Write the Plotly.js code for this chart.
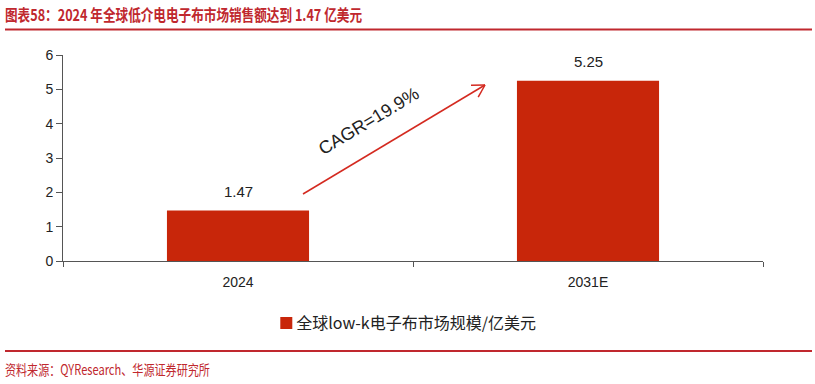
<!DOCTYPE html>
<html>
<head>
<meta charset="utf-8">
<script src="https://cdn.plot.ly/plotly-3.0.1.min.js"></script>
<style>html,body{margin:0;padding:0;background:#fff;}#chart{width:815px;height:384px;}</style>
</head>
<body>
<div id="chart"></div>
<script>
const categories = ['2024', '2031E'];
const marketSize = [1.47, 5.25];
const valueLabels = ['1.47', '5.25'];
const seriesName = '全球low-k电子布市场规模/亿美元';
const cagrText = 'CAGR=19.9%';
const titleText = '图表58：2024 年全球低介电电子布市场销售额达到 1.47 亿美元';
const sourceText = '资料来源：QYResearch、华源证券研究所';

const W = 815, H = 384;
const M = {l: 63, r: 52, t: 55, b: 123};
const PW = W - M.l - M.r, PH = H - M.t - M.b;
const yMax = 6;
const red = '#c0282e';
const barColor = '#c8260a';

const px2x = p => (p - M.l) / PW * categories.length - 0.5;
const py2y = p => (M.t + PH - p) / PH * yMax;
const pxPaper = p => (p - M.l) / PW;
const pyPaper = p => (M.t + PH - p) / PH;

const a0 = [303, 194], a1 = [485, 85];
const ang = Math.atan2(a1[1] - a0[1], a1[0] - a0[0]);
const hl = 14, spread = Math.PI / 6;
const h1 = [a1[0] - hl * Math.cos(ang - spread), a1[1] - hl * Math.sin(ang - spread)];
const h2 = [a1[0] - hl * Math.cos(ang + spread), a1[1] - hl * Math.sin(ang + spread)];

const trace = {
  type: 'bar',
  x: categories,
  y: marketSize,
  name: seriesName,
  marker: {color: barColor},
  width: 0.406,
  hoverinfo: 'skip'
};

const arrowColor = '#d42a20';
const shapes = [
  {type: 'line', xref: 'x', yref: 'y', x0: px2x(a0[0]), y0: py2y(a0[1]), x1: px2x(a1[0]), y1: py2y(a1[1]), line: {color: arrowColor, width: 1.5}},
  {type: 'line', xref: 'x', yref: 'y', x0: px2x(a1[0]), y0: py2y(a1[1]), x1: px2x(h1[0]), y1: py2y(h1[1]), line: {color: arrowColor, width: 1.5}},
  {type: 'line', xref: 'x', yref: 'y', x0: px2x(a1[0]), y0: py2y(a1[1]), x1: px2x(h2[0]), y1: py2y(h2[1]), line: {color: arrowColor, width: 1.5}},
  {type: 'line', xref: 'paper', yref: 'paper', x0: pxPaper(5), x1: pxPaper(812), y0: pyPaper(29.5), y1: pyPaper(29.5), line: {color: red, width: 2}},
  {type: 'line', xref: 'paper', yref: 'paper', x0: pxPaper(5), x1: pxPaper(812), y0: pyPaper(351), y1: pyPaper(351), line: {color: red, width: 2}}
];

const annotations = categories.map((c, i) => ({
  x: i, y: marketSize[i], xref: 'x', yref: 'y', text: valueLabels[i],
  showarrow: false, yanchor: 'bottom', yshift: 9,
  font: {family: 'Liberation Sans, Arial, sans-serif', size: 15, color: '#222'}
}));
annotations.push({
  xref: 'paper', yref: 'paper', x: pxPaper(369), y: pyPaper(121), text: cagrText,
  showarrow: false, textangle: -31, xanchor: 'center', yanchor: 'middle',
  font: {family: 'Liberation Sans, Arial, sans-serif', size: 18, color: '#222'}
});
annotations.push({
  xref: 'paper', yref: 'paper', x: pxPaper(107.5), y: pyPaper(369), text: sourceText,
  showarrow: false, xanchor: 'center', yanchor: 'middle',
  font: {family: 'Noto Sans CJK SC, sans-serif', size: 14, color: red}
});

const layout = {
  width: W, height: H,
  margin: M,
  paper_bgcolor: '#fff', plot_bgcolor: '#fff',
  showlegend: true,
  title: {
    text: '<b>' + titleText + '</b>', xref: 'container', yref: 'container',
    x: 5 / W, xanchor: 'left', y: 1 - 15 / H, yanchor: 'middle',
    font: {family: 'Noto Sans CJK SC, sans-serif', size: 16, color: red}
  },
  xaxis: {
    type: 'category', range: [-0.5, 1.5], showline: true, linecolor: '#555', linewidth: 1,
    ticks: 'outside', tickson: 'boundaries', ticklen: 5, tickcolor: '#555',
    ticklabelstandoff: 8,
    showgrid: false, zeroline: false,
    tickfont: {family: 'Liberation Sans, Arial, sans-serif', size: 14, color: '#222'}
  },
  yaxis: {
    range: [0, yMax], dtick: 1, showline: true, linecolor: '#555', linewidth: 1,
    ticks: 'outside', ticklen: 6, tickcolor: '#555', showgrid: false, zeroline: false,
    tickfont: {family: 'Liberation Sans, Arial, sans-serif', size: 14, color: '#222'}
  },
  legend: {
    orientation: 'h', x: 0.494, xanchor: 'center', y: pyPaper(323), yanchor: 'middle',
    font: {family: 'Noto Sans CJK SC, sans-serif', size: 16, color: '#222'}
  },
  shapes: shapes,
  annotations: annotations
};

Plotly.newPlot('chart', [trace], layout, {displayModeBar: false, staticPlot: true}).then(gd => {
  const t = gd.querySelector('.gtitle');
  if (t) { t.setAttribute('textLength', '357'); t.setAttribute('lengthAdjust', 'spacingAndGlyphs'); }
  gd.querySelectorAll('.annotation-text').forEach(el => {
    if (el.textContent === sourceText) {
      el.setAttribute('textLength', '205'); el.setAttribute('lengthAdjust', 'spacingAndGlyphs');
    }
  });
  gd.querySelectorAll('.legendtext').forEach(el => {
    const x = parseFloat(el.getAttribute('x') || '0');
    el.setAttribute('x', String(x - 10));
  });
});
</script>
</body>
</html>
